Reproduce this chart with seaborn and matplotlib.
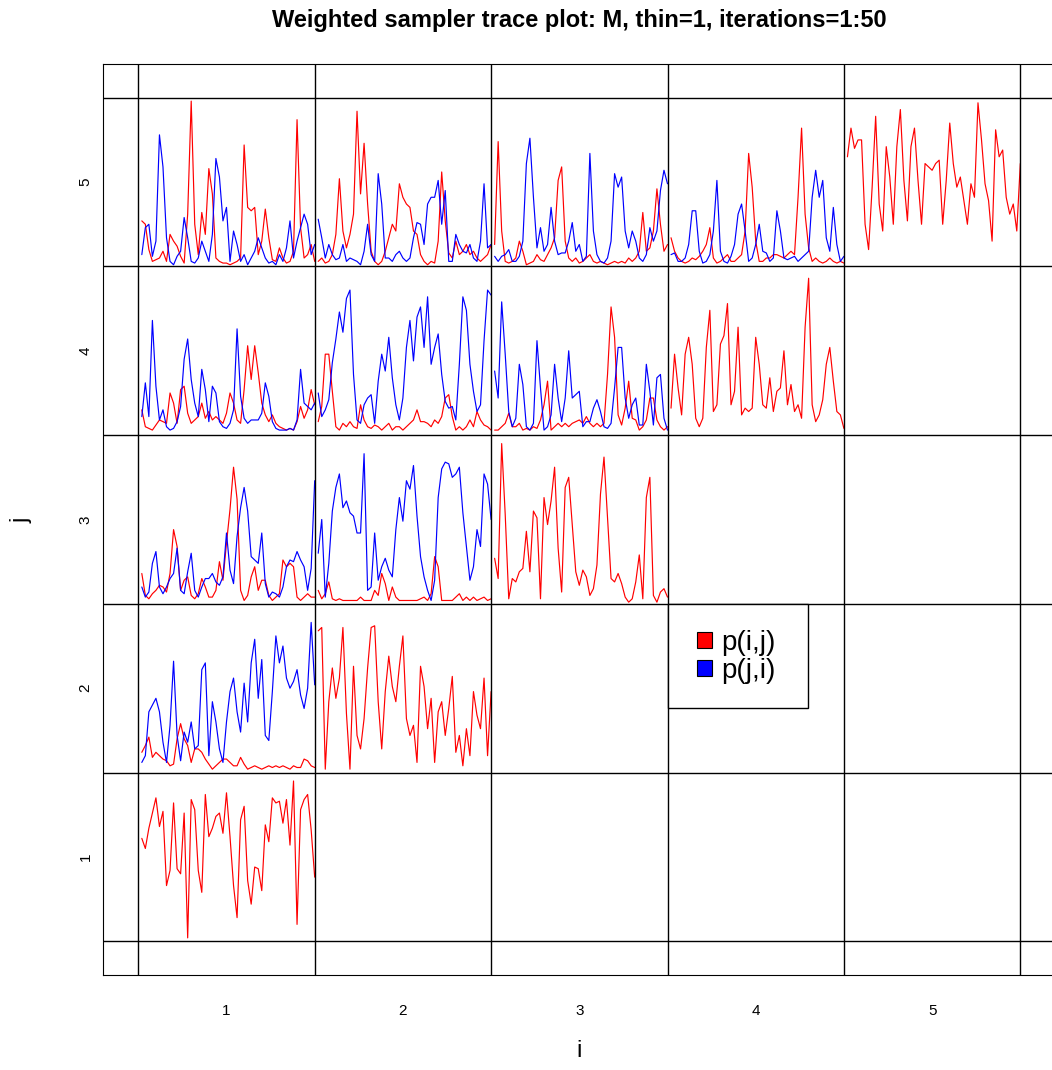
import matplotlib
matplotlib.use("Agg")
import matplotlib.pyplot as plt
from matplotlib.patches import Patch, Rectangle
import numpy as np
import pandas as pd
import seaborn as sns

# Trace values (percent of a cell's height) for iterations 1..50.
# Diagonal cells carry a single trace; off-diagonal cells carry p(i,j) and p(j,i).
diag_1 = [61, 55, 67, 76, 85, 68, 77, 33, 42, 82, 43, 40, 76, 2, 84, 78, 42, 29, 87, 62,
          67, 74, 76, 64, 88, 62, 33, 14, 72, 80, 36, 22, 44, 43, 30, 69, 59, 85, 82, 83,
          70, 84, 57, 95, 10, 78, 84, 87, 66, 38]
diag_2 = [84, 86, 2, 42, 62, 44, 56, 86, 35, 2, 63, 22, 14, 32, 62, 86, 87, 42, 14, 48,
          69, 51, 42, 63, 81, 32, 22, 28, 6, 63, 51, 26, 44, 6, 36, 42, 22, 38, 57, 12,
          22, 4, 26, 10, 48, 34, 26, 56, 10, 48]
diag_3 = [27, 15, 95, 53, 3, 15, 13, 19, 21, 43, 19, 55, 51, 3, 63, 47, 61, 81, 33, 7,
          69, 75, 47, 19, 11, 20, 16, 5, 9, 23, 65, 87, 51, 15, 13, 18, 12, 4, 1, 3,
          13, 29, 3, 63, 75, 5, 1, 7, 9, 4]
diag_4 = [16, 48, 28, 12, 48, 58, 42, 10, 5, 10, 52, 74, 14, 18, 54, 59, 78, 18, 26, 64,
          12, 16, 14, 16, 58, 42, 18, 16, 34, 14, 26, 28, 50, 18, 30, 14, 18, 10, 64, 93,
          18, 8, 12, 21, 42, 52, 32, 14, 12, 4]
diag_5 = [65, 82, 70, 75, 75, 25, 10, 47, 89, 37, 21, 71, 53, 25, 71, 93, 51, 27, 71, 82,
          51, 25, 61, 59, 57, 61, 63, 25, 51, 85, 61, 47, 53, 39, 25, 49, 41, 97, 75, 49,
          39, 15, 81, 65, 69, 41, 31, 37, 21, 61]

red_1_2 = [12, 16, 21, 9, 12, 10, 8, 7, 4, 5, 20, 29, 20, 16, 6, 14, 14, 12, 8, 5,
           2, 4, 6, 8, 8, 6, 4, 4, 9, 5, 2, 3, 4, 3, 2, 3, 4, 3, 4, 3,
           4, 3, 2, 4, 3, 3, 8, 7, 4, 3]
blue_1_2 = [6, 10, 36, 40, 44, 36, 18, 6, 28, 66, 22, 7, 24, 18, 30, 14, 16, 61, 65, 10,
            42, 30, 14, 6, 30, 48, 56, 36, 24, 53, 30, 65, 79, 44, 67, 22, 19, 48, 81, 65,
            75, 56, 50, 54, 61, 46, 38, 50, 89, 52]

red_1_3 = [18, 5, 3, 6, 8, 11, 10, 7, 18, 44, 34, 8, 14, 16, 5, 3, 6, 15, 10, 4,
           4, 8, 25, 14, 36, 56, 81, 62, 8, 2, 5, 16, 22, 8, 14, 14, 5, 2, 4, 6,
           26, 22, 24, 22, 4, 2, 4, 6, 4, 4]
blue_1_3 = [10, 4, 7, 24, 31, 10, 6, 10, 15, 18, 33, 8, 6, 19, 30, 8, 4, 10, 15, 15,
            18, 13, 11, 16, 42, 20, 12, 40, 57, 69, 55, 28, 26, 24, 42, 12, 4, 7, 6, 4,
            10, 22, 26, 25, 31, 26, 22, 8, 21, 73]

red_1_4 = [15, 5, 4, 3, 6, 9, 8, 7, 25, 19, 7, 27, 29, 13, 7, 9, 11, 19, 10, 14,
           9, 11, 9, 7, 13, 25, 19, 9, 7, 27, 53, 33, 53, 37, 19, 12, 8, 12, 7, 5,
           4, 3, 4, 3, 8, 17, 10, 15, 27, 18]
blue_1_4 = [11, 31, 11, 68, 29, 9, 15, 5, 3, 4, 8, 17, 45, 57, 33, 19, 11, 39, 27, 8,
            29, 25, 8, 5, 4, 7, 15, 63, 23, 10, 7, 9, 9, 9, 13, 31, 23, 8, 4, 3,
            3, 3, 4, 3, 9, 39, 19, 17, 15, 19]

red_1_5 = [27, 25, 10, 3, 4, 5, 9, 3, 19, 15, 12, 6, 2, 31, 98, 25, 7, 32, 19, 58,
           43, 5, 3, 2, 2, 1, 2, 3, 5, 72, 35, 33, 35, 7, 15, 34, 17, 4, 3, 11,
           5, 2, 3, 9, 87, 23, 5, 7, 13, 3]
blue_1_5 = [7, 23, 25, 6, 15, 78, 59, 17, 3, 1, 6, 9, 29, 17, 3, 2, 5, 15, 9, 3,
            19, 64, 53, 27, 35, 3, 21, 13, 3, 7, 1, 5, 9, 17, 11, 5, 2, 3, 1, 7,
            3, 11, 27, 5, 15, 23, 31, 25, 7, 13]

red_2_3 = [8, 3, 6, 13, 3, 2, 3, 2, 2, 2, 2, 2, 4, 2, 2, 2, 8, 5, 18, 12,
           2, 10, 4, 2, 2, 2, 2, 2, 2, 3, 4, 2, 6, 28, 22, 2, 2, 2, 2, 4,
           6, 2, 4, 2, 4, 2, 3, 4, 2, 3]
blue_2_3 = [30, 50, 4, 24, 55, 69, 77, 57, 61, 54, 52, 42, 42, 89, 8, 10, 42, 14, 22, 27,
            20, 16, 44, 63, 49, 73, 68, 82, 52, 28, 16, 8, 2, 14, 63, 80, 84, 83, 75, 77,
            81, 54, 34, 14, 22, 44, 34, 77, 71, 50]

red_2_4 = [8, 17, 48, 48, 26, 5, 3, 7, 5, 8, 5, 4, 18, 9, 5, 4, 6, 5, 3, 5,
           7, 3, 5, 5, 3, 5, 7, 9, 15, 8, 8, 7, 5, 9, 7, 11, 22, 24, 11, 3,
           5, 3, 5, 9, 5, 14, 9, 6, 5, 3]
blue_2_4 = [25, 11, 15, 21, 43, 57, 73, 61, 81, 86, 36, 9, 7, 18, 22, 24, 7, 32, 48, 38,
            58, 34, 18, 9, 22, 52, 68, 44, 70, 76, 52, 82, 42, 52, 60, 36, 20, 16, 17, 9,
            42, 82, 74, 42, 26, 14, 18, 56, 86, 83]

red_2_5 = [3, 5, 2, 3, 7, 19, 52, 21, 11, 19, 31, 92, 43, 73, 37, 9, 3, 1, 3, 9,
           17, 25, 21, 49, 41, 37, 35, 21, 19, 7, 3, 1, 3, 2, 15, 56, 27, 8, 5, 15,
           7, 9, 13, 7, 9, 5, 3, 5, 7, 13]
blue_2_5 = [28, 17, 5, 13, 7, 4, 5, 13, 3, 5, 4, 3, 1, 9, 25, 7, 3, 55, 37, 5,
            5, 3, 7, 9, 5, 3, 5, 17, 26, 25, 13, 37, 41, 41, 51, 25, 45, 3, 3, 19,
            13, 9, 8, 13, 5, 3, 15, 49, 11, 13]

red_3_4 = [3, 3, 5, 7, 13, 5, 5, 7, 3, 4, 3, 5, 4, 9, 18, 32, 3, 5, 7, 5,
           7, 5, 7, 8, 9, 7, 11, 7, 5, 7, 5, 7, 36, 76, 58, 12, 6, 16, 32, 10,
           9, 3, 5, 9, 22, 22, 9, 5, 3, 5]
blue_3_4 = [38, 22, 79, 48, 14, 5, 10, 42, 30, 5, 3, 7, 56, 28, 3, 5, 12, 42, 22, 8,
            22, 50, 22, 24, 26, 5, 8, 8, 16, 21, 14, 5, 4, 7, 28, 52, 52, 22, 10, 18,
            22, 6, 6, 42, 26, 6, 34, 36, 10, 3]

red_3_5 = [13, 74, 21, 3, 2, 3, 5, 15, 9, 1, 2, 3, 7, 4, 3, 7, 11, 17, 51, 59,
           15, 5, 3, 5, 2, 3, 5, 7, 3, 2, 3, 2, 1, 2, 3, 2, 3, 2, 5, 3,
           5, 9, 32, 9, 11, 21, 46, 25, 9, 13]
blue_3_5 = [6, 3, 6, 7, 10, 3, 3, 6, 15, 61, 76, 41, 11, 23, 9, 13, 35, 15, 7, 8,
            8, 15, 26, 9, 13, 3, 6, 67, 21, 7, 3, 2, 5, 15, 55, 47, 53, 21, 11, 21,
            15, 5, 3, 7, 23, 15, 21, 45, 57, 49]

red_4_5 = [17, 9, 5, 3, 2, 3, 5, 4, 6, 9, 13, 23, 5, 2, 3, 5, 7, 3, 3, 5,
           7, 21, 67, 47, 15, 3, 3, 5, 5, 7, 7, 6, 5, 7, 9, 7, 41, 82, 31, 11,
           3, 5, 3, 2, 3, 5, 3, 2, 3, 2]
blue_4_5 = [7, 8, 3, 3, 5, 13, 33, 33, 9, 2, 3, 7, 21, 51, 9, 3, 2, 6, 13, 31,
            37, 21, 3, 5, 13, 25, 9, 8, 3, 5, 33, 21, 5, 4, 5, 6, 3, 5, 7, 9,
            41, 57, 41, 51, 17, 9, 35, 13, 3, 6]

grid_levels = [1, 2, 3, 4, 5]
series_names = ["p(i,j)", "p(j,i)"]
series_colors = {"p(i,j)": "#FF0000", "p(j,i)": "#0000FF"}
title_text = "Weighted sampler trace plot: M, thin=1, iterations=1:50"

diag_traces = {1: diag_1, 2: diag_2, 3: diag_3, 4: diag_4, 5: diag_5}
pair_traces = {
    (1, 2): (red_1_2, blue_1_2), (1, 3): (red_1_3, blue_1_3),
    (1, 4): (red_1_4, blue_1_4), (1, 5): (red_1_5, blue_1_5),
    (2, 3): (red_2_3, blue_2_3), (2, 4): (red_2_4, blue_2_4),
    (2, 5): (red_2_5, blue_2_5), (3, 4): (red_3_4, blue_3_4),
    (3, 5): (red_3_5, blue_3_5), (4, 5): (red_4_5, blue_4_5),
}

# Long-form table: each trace spans its cell [i-0.5, i+0.5] x [j-0.5, j+0.5]
rows = []
def add_trace(i, j, series, values):
    n = len(values)
    for k, v in enumerate(values, start=1):
        rows.append({"x": i - 0.5 + k / n, "y": j - 0.5 + v / 100.0,
                     "series": series, "cell": f"{i}-{j}", "iter": k})

for i, vals in diag_traces.items():
    add_trace(i, i, "p(i,j)", vals)
for (i, j), (red, blue) in pair_traces.items():
    add_trace(i, j, "p(i,j)", red)
    add_trace(i, j, "p(j,i)", blue)
df = pd.DataFrame(rows)

sns.set_style("white")
plt.rcParams["font.family"] = ["Liberation Sans", "DejaVu Sans"]
plt.rcParams["text.color"] = "black"

W, H = 1052, 1070
fig = plt.figure(figsize=(W / 100, H / 100), dpi=100)
ax = fig.add_axes([103 / W, 1 - 975 / H, (1055.6 - 103) / W, (975 - 64) / H])

sns.lineplot(data=df, x="x", y="y", hue="series", units="cell",
             estimator=None, sort=False, palette=series_colors,
             hue_order=series_names, linewidth=0.85, legend=False, ax=ax)

for v in np.arange(0.5, 6.0, 1.0):
    ax.axvline(v, color="black", lw=1.0, zorder=3)
    ax.axhline(v, color="black", lw=1.0, zorder=3)

ax.set_xlim(0.3, 5.7)
ax.set_ylim(0.3, 5.7)
ax.set_xticks(grid_levels)
ax.set_yticks(grid_levels)
ax.set_xticklabels([str(g) for g in grid_levels])
ax.set_yticklabels([str(g) for g in grid_levels], rotation=90, va="center")
ax.set_xlabel("")
ax.set_ylabel("")
ax.tick_params(axis="both", direction="out", length=7, width=0.8,
               color="black", labelsize=11, labelcolor="black")
ax.tick_params(axis="x", pad=14)
ax.tick_params(axis="y", pad=0.5)
for s in ax.spines.values():
    s.set_color("black")
    s.set_linewidth(0.8)

fig.text(579 / W, 1 - 20 / H, title_text, ha="center", va="center",
         fontsize=17, fontweight="bold", color="black")
fig.text(579 / W, 1 - 1051 / H, "i", ha="center", va="center", fontsize=17,
         color="black")
fig.text(21 / W, 1 - 520 / H, "j", ha="center", va="center", fontsize=17,
         rotation=90, color="black")

# Legend box anchored at the (3.5, 2.5) grid corner
px_x = 1 / 176.3
px_y = 1 / 168.3
box = Rectangle((3.5, 2.5 - 104 * px_y), 140 * px_x, 104 * px_y,
                facecolor="white", edgecolor="black", linewidth=1.0, zorder=4)
ax.add_patch(box)
handles = [Patch(facecolor=series_colors[s], edgecolor="black", linewidth=0.8)
           for s in series_names]
leg = ax.legend(handles, series_names, loc="center left",
                bbox_to_anchor=(3.5 + 29 * px_x, 2.5 - 53 * px_y),
                bbox_transform=ax.transData,
                fontsize=20, frameon=False, borderpad=0.0, labelspacing=0.06,
                handlelength=0.55, handleheight=0.5, handletextpad=0.35,
                borderaxespad=0.0)
for t in leg.get_texts():
    t.set_color("black")
leg.set_zorder(5)

fig.savefig("out.png", dpi=100)
